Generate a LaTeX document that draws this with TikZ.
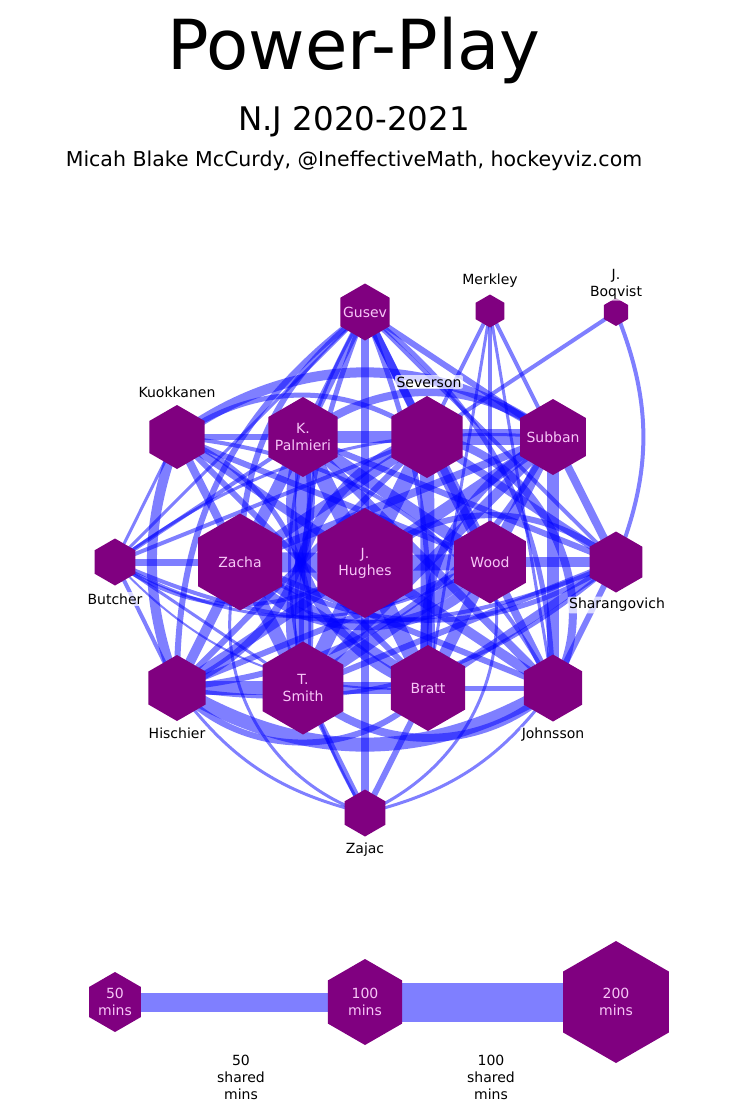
\documentclass[tikz,border=0pt]{standalone}
\usepackage{fontspec}
\setmainfont{DejaVu Sans}
\usetikzlibrary{shapes.geometric}
\definecolor{hexpurple}{HTML}{800080}
\definecolor{hexpink}{HTML}{F7C6F7}
\pgfdeclarelayer{edges}
\pgfsetlayers{edges,main}
\tikzset{
  hexnode/.style={regular polygon, regular polygon sides=6, shape border rotate=30,
    fill=hexpurple, inner sep=0pt, outer sep=0pt, minimum size=#1},
  inname/.style={text=hexpink, align=center, font=\fontsize{14}{17}\selectfont},
  outname/.style={text=black, align=center, font=\fontsize{14}{17}\selectfont,
    fill=white, fill opacity=0.7, text opacity=1, inner sep=1.5pt, rounded corners=2pt},
  legtext/.style={align=center, font=\fontsize{14}{17}\selectfont},
  link/.style={draw=blue, draw opacity=0.5, line width=#1}
}

\begin{document}
\begin{tikzpicture}[x=1pt,y=-1pt]
    \useasboundingbox (0,0) rectangle (730,1116);
    % Titles
    \node[anchor=base, font=\fontsize{69}{80}\selectfont] (title) at (354,70) {Power-Play};
    \node[anchor=base, font=\fontsize{32.5}{38}\selectfont] (season) at (354,130) {N.J 2020-2021};
    \node[anchor=base, font=\fontsize{20.5}{24}\selectfont] (credit) at (354,166) {Micah Blake McCurdy, @IneffectiveMath, hockeyviz.com};

    % Top row
    \node[hexnode=57pt, label={[inname]center:Gusev}] (gusev) at (365,312) {};
    \node[hexnode=33pt] (merkley) at (490,311) {};
    \node[outname] (merkleyname) at (490,281) {Merkley};
    \node[hexnode=28pt] (boqvist) at (616,312) {};
    \node[outname] (boqvistname) at (616,284) {J.\\Boqvist};
    % Second row
    \node[hexnode=64pt] (kuokkanen) at (177,437) {};
    \node[hexnode=80pt, label={[inname]center:{K.\\Palmieri}}] (palmieri) at (303,437) {};
    \node[hexnode=82pt] (severson) at (427,437) {};
    \node[hexnode=76pt, label={[inname]center:Subban}] (subban) at (553,437) {};
    % Third row
    \node[hexnode=47pt] (butcher) at (115,562) {};
    \node[hexnode=97pt, label={[inname]center:Zacha}] (zacha) at (240,562) {};
    \node[hexnode=110pt, label={[inname]center:{J.\\Hughes}}] (hughes) at (365,563) {};
    \node[hexnode=83pt, label={[inname]center:Wood}] (wood) at (490,562) {};
    \node[hexnode=61pt] (sharangovich) at (616,562) {};
    % Fourth row
    \node[hexnode=66pt] (hischier) at (177,688) {};
    \node[hexnode=93pt, label={[inname]center:{T.\\Smith}}] (smith) at (303,688) {};
    \node[hexnode=86pt, label={[inname]center:Bratt}] (bratt) at (428,688) {};
    \node[hexnode=67pt] (johnsson) at (553,688) {};
    % Bottom
    \node[hexnode=47pt] (zajac) at (365,813) {};

    % Outside names
    \node[outname] (kuokkanenname) at (177,392) {Kuokkanen};
    \node[outname] (seversonname) at (429,382) {Severson};
    \node[outname] (butchername) at (115,599) {Butcher};
    \node[outname] (sharangovichname) at (617,605) {Sharangovich};
    \node[outname] (hischiername) at (177,733) {Hischier};
    \node[outname] (johnssonname) at (553,735) {Johnsson};
    \node[outname] (zajacname) at (365,850) {Zajac};

    \begin{pgfonlayer}{edges}
    % Second row links
    \draw[link=6pt] (kuokkanen.center) -- (palmieri.center);
    \draw[link=12pt] (palmieri.center) -- (severson.center);
    \draw[link=16pt] (severson.center) -- (subban.center);
    \draw[link=5pt] (kuokkanen.center) to[bend left=35] (severson.center);
    \draw[link=10pt] (kuokkanen.center) to[bend left=36] (subban.center);
    \draw[link=8pt] (palmieri.center) to[bend left=38] (subban.center);
    % Third row links
    \draw[link=7pt] (butcher.center) -- (zacha.center);
    \draw[link=20pt] (zacha.center) -- (hughes.center);
    \draw[link=16pt] (hughes.center) -- (wood.center);
    \draw[link=10pt] (wood.center) -- (sharangovich.center);
    \draw[link=4pt] (butcher.center) to[bend right=35] (hughes.center);
    \draw[link=3pt] (butcher.center) to[bend right=30] (wood.center);
    \draw[link=4pt] (butcher.center) to[bend right=24] (sharangovich.center);
    \draw[link=10pt] (zacha.center) to[bend right=60] (wood.center);
    \draw[link=5pt] (zacha.center) to[bend right=32] (sharangovich.center);
    \draw[link=6pt] (hughes.center) to[bend left=40] (sharangovich.center);
    % Fourth row links
    \draw[link=14pt] (hischier.center) -- (smith.center);
    \draw[link=12pt] (smith.center) -- (bratt.center);
    \draw[link=5pt] (bratt.center) -- (johnsson.center);
    \draw[link=6pt] (hischier.center) to[bend right=48] (bratt.center);
    \draw[link=14pt] (hischier.center) to[bend right=31] (johnsson.center);
    \draw[link=8pt] (smith.center) to[bend right=43] (johnsson.center);
    % Columns
    \draw[link=8pt] (gusev.center) -- (hughes.center);
    \draw[link=8pt] (hughes.center) -- (zajac.center);
    \draw[link=3pt] (gusev.center) to[bend right=31] (zajac.center);
    \draw[link=16pt] (palmieri.center) -- (smith.center);
    \draw[link=14pt] (severson.center) -- (bratt.center);
    \draw[link=12pt] (subban.center) -- (johnsson.center);
    \draw[link=10pt] (kuokkanen.center) to[bend right=20] (hischier.center);
    \draw[link=8pt] (severson.center) to[bend left=58] (johnsson.center);
    % Gusev
    \draw[link=8pt] (gusev.center) -- (palmieri.center);
    \draw[link=8pt] (gusev.center) -- (severson.center);
    \draw[link=6pt] (gusev.center) to[bend right=25] (zacha.center);
    \draw[link=8pt] (gusev.center) -- (wood.center);
    \draw[link=6pt] (gusev.center) -- (subban.center);
    \draw[link=3pt] (gusev.center) -- (butcher.center);
    \draw[link=6pt] (gusev.center) to[bend right=27] (hischier.center);
    \draw[link=5pt] (gusev.center) to[bend right=12] (smith.center);
    \draw[link=5pt] (gusev.center) to[bend left=12] (bratt.center);
    \draw[link=5pt] (gusev.center) to[bend left=25] (johnsson.center);
    \draw[link=4pt] (gusev.center) -- (sharangovich.center);
    % Merkley and Boqvist
    \draw[link=4pt] (merkley.center) -- (severson.center);
    \draw[link=4pt] (merkley.center) -- (wood.center);
    \draw[link=4pt] (merkley.center) -- (subban.center);
    \draw[link=3pt] (merkley.center) -- (johnsson.center);
    \draw[link=3pt] (merkley.center) -- (bratt.center);
    \draw[link=4pt] (boqvist.center) -- (severson.center);
    \draw[link=4pt] (boqvist.center) to[bend left=22] (sharangovich.center);
    % Kuokkanen
    \draw[link=3pt] (kuokkanen.center) -- (butcher.center);
    \draw[link=8pt] (kuokkanen.center) -- (zacha.center);
    \draw[link=8pt] (kuokkanen.center) -- (hughes.center);
    \draw[link=6pt] (kuokkanen.center) -- (wood.center);
    \draw[link=6pt] (kuokkanen.center) -- (bratt.center);
    \draw[link=5pt] (kuokkanen.center) to[bend left=42] (smith.center);
    \draw[link=4pt] (kuokkanen.center) to[bend left=28] (johnsson.center);
    % Palmieri
    \draw[link=4pt] (palmieri.center) -- (butcher.center);
    \draw[link=12pt] (palmieri.center) -- (zacha.center);
    \draw[link=16pt] (palmieri.center) -- (hughes.center);
    \draw[link=12pt] (palmieri.center) -- (wood.center);
    \draw[link=6pt] (palmieri.center) -- (sharangovich.center);
    \draw[link=8pt] (palmieri.center) to[bend left=42] (hischier.center);
    \draw[link=10pt] (palmieri.center) to[bend right=47] (bratt.center);
    \draw[link=8pt] (palmieri.center) -- (johnsson.center);
    % Severson
    \draw[link=4pt] (severson.center) -- (butcher.center);
    \draw[link=10pt] (severson.center) -- (zacha.center);
    \draw[link=16pt] (severson.center) -- (hughes.center);
    \draw[link=14pt] (severson.center) -- (wood.center);
    \draw[link=8pt] (severson.center) -- (sharangovich.center);
    \draw[link=6pt] (severson.center) -- (hischier.center);
    \draw[link=10pt] (severson.center) to[bend right=47] (smith.center);
    % Subban
    \draw[link=3pt] (subban.center) to[bend right=20] (butcher.center);
    \draw[link=8pt] (subban.center) -- (zacha.center);
    \draw[link=12pt] (subban.center) -- (hughes.center);
    \draw[link=12pt] (subban.center) -- (wood.center);
    \draw[link=8pt] (subban.center) -- (sharangovich.center);
    \draw[link=6pt] (subban.center) to[bend left=28] (hischier.center);
    \draw[link=10pt] (subban.center) -- (smith.center);
    \draw[link=8pt] (subban.center) to[bend right=36] (bratt.center);
    % Butcher
    \draw[link=4pt] (butcher.center) -- (hischier.center);
    \draw[link=3pt] (butcher.center) -- (smith.center);
    \draw[link=2pt] (butcher.center) to[bend right=25] (bratt.center);
    % Zacha
    \draw[link=10pt] (zacha.center) -- (hischier.center);
    \draw[link=14pt] (zacha.center) -- (smith.center);
    \draw[link=10pt] (zacha.center) -- (bratt.center);
    \draw[link=6pt] (zacha.center) -- (johnsson.center);
    \draw[link=3pt] (zacha.center) to[bend right=45] (zajac.center);
    % Hughes
    \draw[link=10pt] (hughes.center) -- (hischier.center);
    \draw[link=14pt] (hughes.center) -- (smith.center);
    \draw[link=16pt] (hughes.center) -- (bratt.center);
    \draw[link=10pt] (hughes.center) -- (johnsson.center);
    % Wood
    \draw[link=6pt] (wood.center) -- (hischier.center);
    \draw[link=12pt] (wood.center) -- (smith.center);
    \draw[link=12pt] (wood.center) -- (bratt.center);
    \draw[link=8pt] (wood.center) -- (johnsson.center);
    \draw[link=3pt] (wood.center) to[bend left=40] (zajac.center);
    % Sharangovich
    \draw[link=6pt] (sharangovich.center) -- (smith.center);
    \draw[link=8pt] (sharangovich.center) -- (bratt.center);
    \draw[link=6pt] (sharangovich.center) -- (johnsson.center);
    \draw[link=4pt] (sharangovich.center) to[bend left=25] (hischier.center);
    % Zajac
    \draw[link=3pt] (hischier.center) to[bend right=20] (zajac.center);
    \draw[link=6pt] (smith.center) -- (zajac.center);
    \draw[link=6pt] (bratt.center) -- (zajac.center);
    \draw[link=3pt] (johnsson.center) to[bend left=20] (zajac.center);
    % Legend links
    \draw[link=19pt] (115,1002) -- (365,1002);
    \draw[link=39pt] (365,1002) -- (616,1002);
    \end{pgfonlayer}

    % Legend
    \node[hexnode=60pt, label={[inname]center:{50\\mins}}] (mins50) at (115,1002) {};
    \node[hexnode=86pt, label={[inname]center:{100\\mins}}] (mins100) at (365,1002) {};
    \node[hexnode=122pt, label={[inname]center:{200\\mins}}] (mins200) at (616,1002) {};
    \node[legtext] (shared50) at (241,1077) {50\\shared\\mins};
    \node[legtext] (shared100) at (491,1077) {100\\shared\\mins};

\end{tikzpicture}
\end{document}
